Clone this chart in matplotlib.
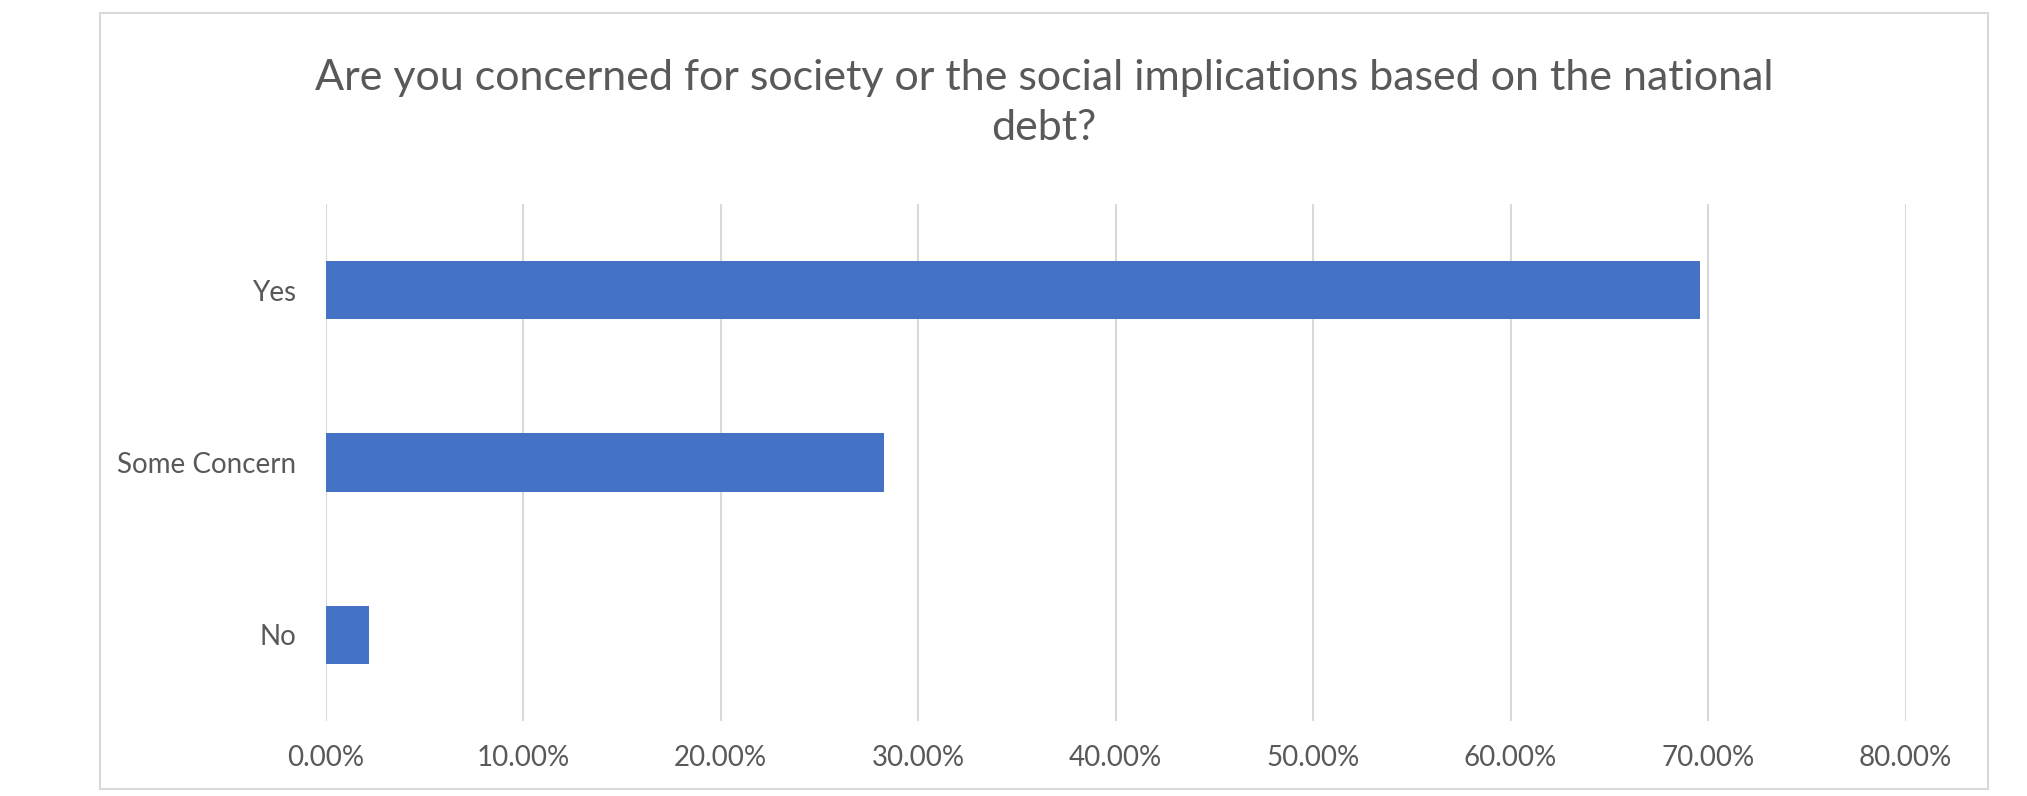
import matplotlib
matplotlib.use("Agg")
import matplotlib.pyplot as plt
from matplotlib.patches import Rectangle
from matplotlib.ticker import FuncFormatter

# Survey responses (share of respondents)
categories = ["Yes", "Some Concern", "No"]
shares = [0.6957, 0.2826, 0.0217]
x_ticks = [0.0, 0.1, 0.2, 0.3, 0.4, 0.5, 0.6, 0.7, 0.8]
title = ("Are you concerned for society or the social implications based on the national\n"
         "debt?")

BAR = "#4472C4"
TEXT = "#595959"
GRID = "#D9D9D9"

plt.rcParams["font.family"] = ["Lato", "DejaVu Sans"]

fig = plt.figure(figsize=(20.27, 7.96), dpi=100)
fig.patch.set_facecolor("white")

# chart border
fig.patches.append(Rectangle((0.0491, 0.009), 0.9317, 0.9747, transform=fig.transFigure,
                             fill=False, edgecolor=GRID, linewidth=1.5))

ax = fig.add_axes([0.1607, 0.0942, 0.7794, 0.6495])
y = list(range(len(categories)))
ax.barh(y, shares, height=0.34, color=BAR, zorder=3)
ax.set_ylim(len(categories) - 0.5, -0.5)
ax.set_yticks(y)
ax.set_yticklabels(categories)
ax.set_xlim(x_ticks[0], x_ticks[-1])
ax.set_xticks(x_ticks)
ax.xaxis.set_major_formatter(FuncFormatter(lambda v, p: f"{v * 100:.2f}%"))
ax.grid(axis="x", color=GRID, linewidth=1.5, zorder=0)
for s in ax.spines.values():
    s.set_visible(False)
ax.tick_params(axis="both", length=0, labelsize=20, labelcolor=TEXT)
ax.tick_params(axis="x", pad=17)
ax.tick_params(axis="y", pad=21)

fig.text(0.5150, 0.926, title, ha="center", va="top", fontsize=31, color=TEXT,
         linespacing=1.40)

fig.savefig("out.png", dpi=100, facecolor="white")
